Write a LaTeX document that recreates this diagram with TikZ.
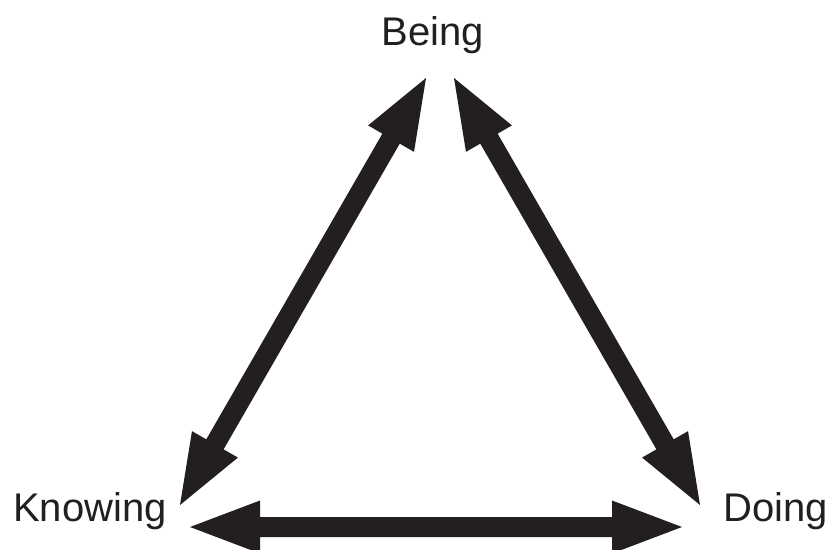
\documentclass[tikz,border=0pt]{standalone}
\usepackage{fontspec}
\setmainfont{Liberation Sans}
\usetikzlibrary{calc}
\definecolor{ink}{HTML}{231F20}
\tikzset{
  lbl/.style={inner sep=0pt, anchor=base, text=ink, font=\fontsize{40}{46}\selectfont},
}
% double-headed block arrow between two named coordinates
\newcommand{\dblarrow}[2]{%
  \fill[ink]
    (#1)
    -- ($ ($(#1)!70pt!(#2)$)!26.5pt!90:(#2) $)
    -- ($ ($(#1)!70pt!(#2)$)!10pt!90:(#2) $)
    -- ($ ($(#2)!70pt!(#1)$)!10pt!-90:(#1) $)
    -- ($ ($(#2)!70pt!(#1)$)!26.5pt!-90:(#1) $)
    -- (#2)
    -- ($ ($(#2)!70pt!(#1)$)!26.5pt!90:(#1) $)
    -- ($ ($(#2)!70pt!(#1)$)!10pt!90:(#1) $)
    -- ($ ($(#1)!70pt!(#2)$)!10pt!-90:(#2) $)
    -- ($ ($(#1)!70pt!(#2)$)!26.5pt!-90:(#2) $)
    -- cycle;}
\begin{document}
\begin{tikzpicture}[x=1pt,y=-1pt]
\useasboundingbox (0,0) rectangle (835,549);
\node[lbl] (being) at (433,45) {Being};
\node[lbl] (knowing) at (90,521) {Knowing};
\node[lbl] (doing) at (776,521) {Doing};
\coordinate (kb) at (180,505);
\coordinate (bk) at (426,78);
\coordinate (bd) at (454,78);
\coordinate (db) at (700,505);
\coordinate (kd) at (190,527);
\coordinate (dk) at (682,527);
\dblarrow{kb}{bk}
\dblarrow{bd}{db}
\dblarrow{kd}{dk}
\end{tikzpicture}
\end{document}
